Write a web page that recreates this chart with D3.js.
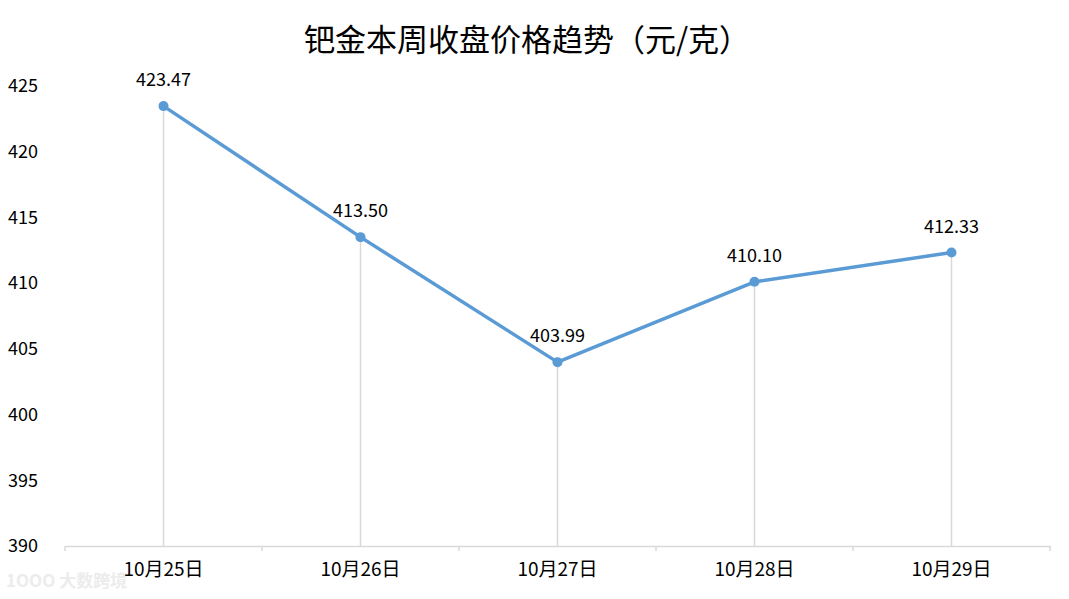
<!DOCTYPE html>
<html>
<head>
<meta charset="utf-8">
<script src="https://cdn.jsdelivr.net/npm/d3@7"></script>
<style>
  body { margin: 0; background: #fff; }
  text { font-family: "Noto Sans CJK SC", "Noto Sans", sans-serif; fill: #000; }
</style>
</head>
<body>
<svg width="1069" height="599"></svg>
<script>
// data ==============================================
var dates = ["10月25日", "10月26日", "10月27日", "10月28日", "10月29日"];
var prices = [423.47, 413.50, 403.99, 410.10, 412.33];
var yTicks = [390, 395, 400, 405, 410, 415, 420, 425];

var svg = d3.select("svg"),
    plotLeft = 65, plotRight = 1050, plotTop = 86, plotBottom = 546;

var x = d3.scaleBand().domain(dates).range([plotLeft, plotRight]);
var y = d3.scaleLinear().domain([390, 425]).range([plotBottom, plotTop]);

// watermark (behind everything)
svg.append("text")
  .attr("x", 6).attr("y", 587)
  .style("font-size", "17px")
  .style("font-weight", "bold")
  .style("fill", "#ececec")
  .text("1OOO 大数跨境");

// title
svg.append("text")
  .attr("x", 527).attr("y", 51)
  .attr("text-anchor", "middle")
  .style("font-size", "31px")
  .text("钯金本周收盘价格趋势（元/克）");

// y labels (no axis line)
svg.append("g").selectAll("text")
  .data(yTicks).enter().append("text")
  .attr("x", 8).attr("y", function(d) { return y(d); })
  .attr("dy", "0.35em")
  .style("font-size", "18px")
  .text(function(d) { return d; });

// x axis
var xAxis = d3.axisBottom(x).tickSize(0).tickPadding(17);
var gx = svg.append("g").attr("transform", "translate(0," + plotBottom + ")").call(xAxis);
gx.select(".domain").attr("stroke", "#d9d9d9").attr("stroke-width", 1.5);
gx.selectAll("text").style("font-size", "19px")
  .style("font-family", "'Noto Sans CJK SC', sans-serif").attr("fill", "#000");
// band boundary ticks
var edges = dates.map(function(d) { return x(d); }).concat([plotRight]);
gx.selectAll(".edge").data(edges).enter().append("line")
  .attr("x1", function(d) { return d; }).attr("x2", function(d) { return d; })
  .attr("y1", 0).attr("y2", 5)
  .attr("stroke", "#d9d9d9").attr("stroke-width", 1.5);

var cx = function(d, i) { return x(dates[i]) + x.bandwidth() / 2; };

// drop lines
svg.append("g").selectAll("line")
  .data(prices).enter().append("line")
  .attr("x1", cx).attr("x2", cx)
  .attr("y1", function(d) { return y(d); }).attr("y2", plotBottom)
  .attr("stroke", "#d9d9d9").attr("stroke-width", 1.5);

// line
var line = d3.line().x(cx).y(function(d) { return y(d); });
svg.append("path").datum(prices)
  .attr("d", line)
  .attr("fill", "none")
  .attr("stroke", "#5b9bd5")
  .attr("stroke-width", 3.5)
  .attr("stroke-linejoin", "round");

// markers
svg.append("g").selectAll("circle")
  .data(prices).enter().append("circle")
  .attr("cx", cx).attr("cy", function(d) { return y(d); })
  .attr("r", 5)
  .attr("fill", "#5b9bd5");

// value labels
svg.append("g").selectAll("text")
  .data(prices).enter().append("text")
  .attr("x", cx).attr("y", function(d) { return y(d) - 20; })
  .attr("text-anchor", "middle")
  .style("font-size", "18px")
  .text(function(d) { return d.toFixed(2); });
</script>
</body>
</html>
